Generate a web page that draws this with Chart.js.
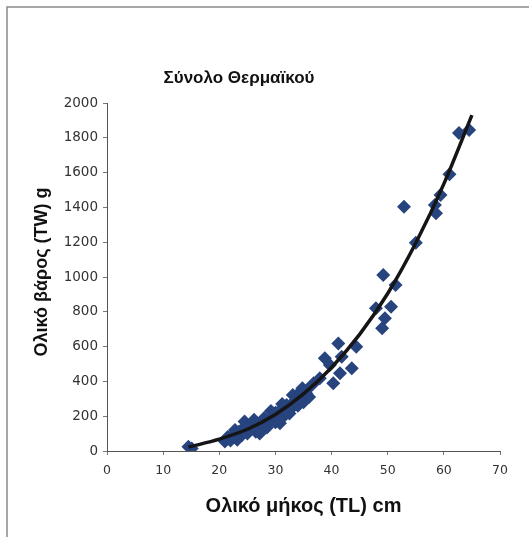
<!DOCTYPE html>
<html>
<head>
<meta charset="utf-8">
<script src="https://cdn.jsdelivr.net/npm/chart.js@4.4.1/dist/chart.umd.min.js"></script>
<style>
  html, body { margin: 0; padding: 0; background: #fff; }
  #wrap { width: 529px; height: 537px; }
</style>
</head>
<body>
<div id="wrap"><canvas id="fishChart" width="529" height="537"></canvas></div>
<script>
// Total length (cm) and total weight (g)
const lengths = [
  14.5, 15.1,
  21.0, 21.5, 22.0, 22.5, 22.8, 23.0, 23.2, 23.5, 24.0, 24.2, 24.5, 25.0, 25.0, 25.5,
  26.0, 26.2, 26.5, 27.0, 27.2, 27.5, 28.0, 28.0, 28.5, 29.0, 29.2, 29.5, 30.0, 30.0,
  30.5, 30.8, 31.0, 31.2, 31.5, 32.0, 32.0, 32.5, 33.0, 33.1, 33.5, 33.8, 34.0, 34.5,
  34.8, 35.0, 35.5, 35.6, 36.0, 36.8, 37.9, 38.8, 39.7, 40.3, 41.2, 41.5, 41.8, 43.6,
  44.4, 47.9, 49.0, 49.2, 49.5, 50.6, 51.4, 52.9, 55.0, 58.4, 58.6, 59.4, 61.0, 62.7,
  64.5
];
const weights = [
  25, 15,
  55, 80, 60, 95, 120, 75, 65, 110, 90, 130, 170, 140, 100, 120,
  150, 180, 110, 130, 100, 170, 150, 190, 135, 175, 230, 200, 165, 220,
  190, 160, 240, 270, 200, 230, 265, 215, 250, 322, 290, 320, 260, 300,
  360, 280, 330, 350, 310, 389, 418, 533, 494, 389, 618, 447, 542, 475,
  599, 820, 705, 1011, 763, 829, 954, 1404, 1197, 1414, 1366, 1471, 1590, 1828,
  1845
];

// Trend curve read at a few lengths
const trendLengths = [14.5, 20, 25, 30, 35, 40, 45, 50, 55, 60, 65];
const trendWeights = [22, 68, 125, 210, 328, 480, 670, 905, 1195, 1535, 1930];

const xTicks = [0, 10, 20, 30, 40, 50, 60, 70];
const yTicks = [0, 200, 400, 600, 800, 1000, 1200, 1400, 1600, 1800, 2000];

const chartTitle = 'Σύνολο Θερμαϊκού';
const xTitle = 'Ολικό μήκος (TL) cm';
const yTitle = 'Ολικό βάρος (TW) g';

// titles and the scanned frame
const decorPlugin = {
  id: 'decor',
  beforeDraw(chart) {
    const c = chart.ctx;
    c.save();
    c.fillStyle = '#fff';
    c.fillRect(0, 0, chart.width, chart.height);
    c.strokeStyle = '#8a8a8a';
    c.lineWidth = 1.5;
    c.beginPath();
    c.moveTo(7, chart.height);
    c.lineTo(7, 7);
    c.lineTo(chart.width, 7);
    c.stroke();
    c.restore();
  },
  afterDraw(chart) {
    const c = chart.ctx;
    const area = chart.chartArea;
    c.save();
    c.fillStyle = '#111';
    c.textAlign = 'center';
    c.textBaseline = 'middle';
    c.font = 'bold 17px "Liberation Sans", Arial, sans-serif';
    c.fillText(chartTitle, 239, 78);
    c.font = 'bold 20px "Liberation Sans", Arial, sans-serif';
    c.fillText(xTitle, (area.left + area.right) / 2, 506);
    c.translate(42, 272);
    c.rotate(-Math.PI / 2);
    c.font = 'bold 18px "Liberation Sans", Arial, sans-serif';
    c.fillText(yTitle, 0, 0);
    c.restore();
  }
};

const plain = v => String(v);

const ctx = document.getElementById('fishChart').getContext('2d');
new Chart(ctx, {
  type: 'scatter',
  data: {
    datasets: [
      {
        type: 'line',
        label: 'trend',
        data: trendLengths.map((l, i) => ({x: l, y: trendWeights[i]})),
        borderColor: '#151515',
        borderWidth: 3.5,
        pointRadius: 0,
        cubicInterpolationMode: 'monotone',
        fill: false,
        order: 0
      },
      {
        label: 'samples',
        data: lengths.map((l, i) => ({x: l, y: weights[i]})),
        pointStyle: 'rectRot',
        pointRadius: 7,
        backgroundColor: '#27447f',
        borderColor: '#27447f',
        borderWidth: 0,
        order: 1
      }
    ]
  },
  options: {
    responsive: false,
    animation: false,
    layout: { padding: { left: 0, top: 103, right: 29, bottom: 0 } },
    plugins: {
      legend: { display: false },
      title: { display: false },
      tooltip: { enabled: false }
    },
    scales: {
      x: {
        type: 'linear',
        min: 0,
        max: 70,
        afterFit: s => { s.height = 86; },
        afterBuildTicks: s => { s.ticks = xTicks.map(v => ({value: v})); },
        ticks: {
          color: '#333',
          padding: 8,
          callback: plain,
          font: { family: '"DejaVu Sans", sans-serif', size: 12.5 }
        },
        grid: { drawOnChartArea: false, drawTicks: true, tickLength: 4, color: '#777' },
        border: { color: '#555', width: 1 }
      },
      y: {
        type: 'linear',
        min: 0,
        max: 2000,
        afterFit: s => { s.width = 107; },
        afterBuildTicks: s => { s.ticks = yTicks.map(v => ({value: v})); },
        ticks: {
          color: '#333',
          padding: 5,
          callback: plain,
          font: { family: '"DejaVu Sans", sans-serif', size: 13.5 }
        },
        grid: { drawOnChartArea: false, drawTicks: true, tickLength: 4, color: '#777' },
        border: { color: '#555', width: 1 }
      }
    }
  },
  plugins: [decorPlugin]
});
</script>
</body>
</html>
